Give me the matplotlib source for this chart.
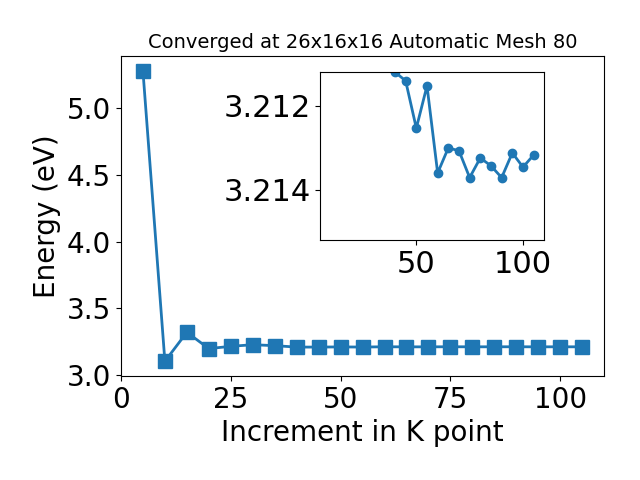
import matplotlib
matplotlib.use("Agg")
import matplotlib.pyplot as plt

kpoints = [5, 10, 15, 20, 25, 30, 35, 40, 45, 50, 55, 60, 65, 70, 75, 80, 85, 90, 95, 100, 105]
energy = [5.277, 3.105, 3.322, 3.200, 3.217, 3.229, 3.222,
          3.21119, 3.21140, 3.21253, 3.21152, 3.21360, 3.21300, 3.21307,
          3.21371, 3.21324, 3.21343, 3.21371, 3.21312, 3.21346, 3.21317]
inset_start = 7
title = "Converged at 26x16x16 Automatic Mesh 80"

fig = plt.figure(figsize=(6.4, 4.8), dpi=100)
ax = fig.add_axes([0.189, 0.217, 0.755, 0.666])
ax.plot(kpoints, energy, marker='s', markersize=10.5, linewidth=2, color='#1f77b4')
ax.set_xlabel("Increment in K point", fontsize=20)
ax.set_ylabel("Energy (eV)", fontsize=20)
ax.set_title(title, fontsize=14)
ax.tick_params(labelsize=20)
ax.set_xticks([0, 25, 50, 75, 100])

ins = fig.add_axes([0.5005, 0.5, 0.35, 0.349])
ins.plot(kpoints[inset_start:], energy[inset_start:], marker='o', markersize=6,
         linewidth=2, color='#1f77b4')
ins.set_xlim(5, 110)
ins.set_ylim(3.2152, 3.2112)
ins.set_xticks([50, 100])
ins.set_yticks([3.212, 3.214])
ins.set_yticklabels(["3.212", "3.214"])
ins.tick_params(labelsize=22)

fig.savefig("out.png", dpi=100)
